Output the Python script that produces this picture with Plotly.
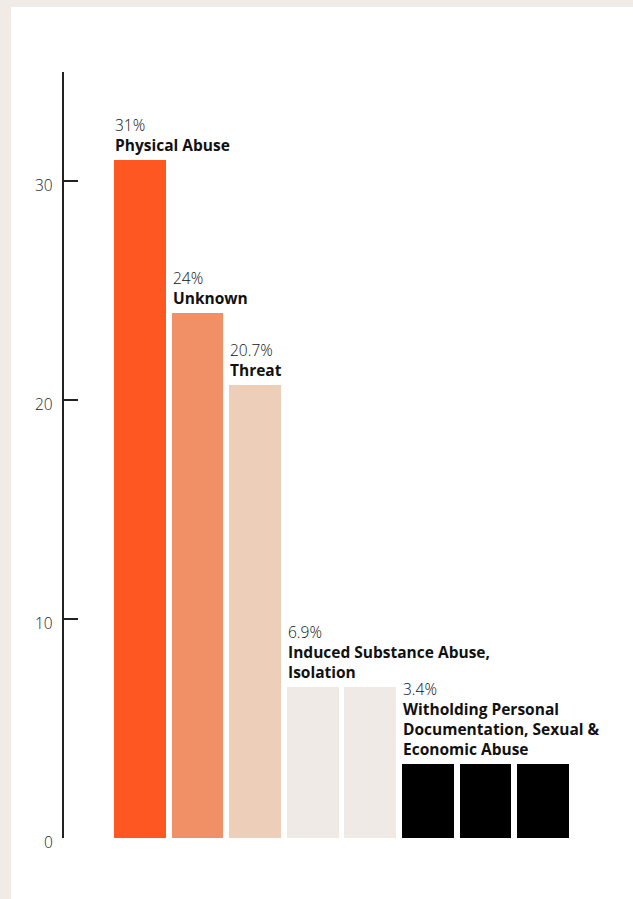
import plotly.graph_objects as go

# Share of reported abuse types (%), one bar per type
abuse_types = [
    "Physical Abuse", "Unknown", "Threat",
    "Induced Substance Abuse", "Isolation",
    "Witholding Personal Documentation", "Sexual Abuse", "Economic Abuse",
]
shares = [31, 24, 20.7, 6.9, 6.9, 3.4, 3.4, 3.4]
bar_colors = ["#FF5722", "#F19066", "#EDCEB8", "#EFEAE6", "#EFEAE6",
              "#000000", "#000000", "#000000"]

# Labels shown above the first bar of each group of equal shares
group_start = [0, 1, 2, 3, 5]
group_value_text = ["31%", "24%", "20.7%", "6.9%", "3.4%"]
group_names = [
    "Physical Abuse",
    "Unknown",
    "Threat",
    "Induced Substance Abuse,<br>Isolation",
    "Witholding Personal<br>Documentation, Sexual &amp;<br>Economic Abuse",
]

y_ticks = [0, 10, 20, 30]

BAR_W = 0.9
FONT = "'Open Sans', Roboto, sans-serif"

fig = go.Figure()
fig.add_trace(go.Bar(
    x=list(range(len(shares))),
    y=shares,
    width=BAR_W,
    marker=dict(color=bar_colors, line=dict(width=0)),
    hoverinfo="skip",
    text=abuse_types,
    textposition="none",
))

for i, val_txt, name in zip(group_start, group_value_text, group_names):
    fig.add_annotation(
        x=i - BAR_W / 2, y=shares[i], xref="x", yref="y",
        xanchor="left", yanchor="bottom", align="left",
        text=f"{val_txt}<br><b>{name}</b>",
        showarrow=False, yshift=2, xshift=-1,
        font=dict(family=FONT, size=15.5, color="#111111", weight=300),
    )

# y tick labels, set slightly below their tick marks
for t in y_ticks:
    fig.add_annotation(
        x=0, y=t, xref="paper", yref="y",
        xanchor="right", yanchor="middle",
        text=str(t), showarrow=False, xshift=-9, yshift=-4,
        font=dict(family=FONT, size=15.5, color="#222222", weight=300),
    )

# white card sitting on the beige page
fig.add_shape(
    type="rect", xref="paper", yref="paper",
    x0=-0.0989, x1=1.2, y0=-0.2, y1=1.0849,
    fillcolor="white", line=dict(width=0), layer="below",
)

fig.update_layout(
    width=633, height=899,
    margin=dict(l=64, r=33, t=72, b=61),
    paper_bgcolor="#F0EBE6",
    plot_bgcolor="rgba(0,0,0,0)",
    showlegend=False,
    bargap=0,
    font=dict(family=FONT, size=14, color="#222222"),
    xaxis=dict(visible=False, range=[-1.32, 7.99], fixedrange=True),
    yaxis=dict(
        range=[0, 35], tickvals=y_ticks, showticklabels=False,
        showgrid=False, zeroline=False,
        showline=True, linecolor="#222222", linewidth=2,
        ticks="inside", ticklen=14, tickwidth=2, tickcolor="#222222",
        fixedrange=True,
    ),
)

fig.write_html("out.html", config={"displayModeBar": False})
